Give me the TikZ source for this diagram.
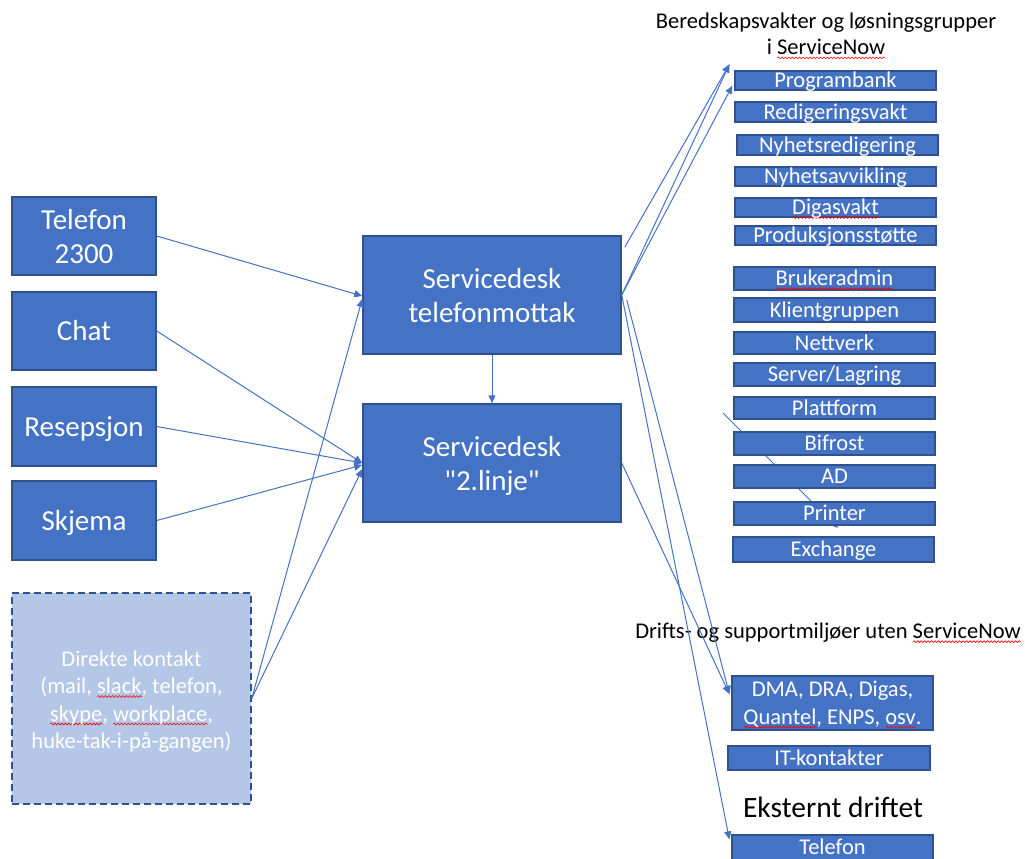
\documentclass[tikz,border=0pt]{standalone}
\usepackage{fontspec}
\newfontfamily\carlito{Carlito}
\usetikzlibrary{arrows.meta,decorations.pathmorphing}
\definecolor{boxblue}{HTML}{4472C4}
\definecolor{boxedge}{HTML}{2F528F}
\definecolor{softblue}{HTML}{B4C7E7}
\definecolor{linkblue}{HTML}{4472C4}
% red wavy spell-check underline under a word
\newsavebox\spellbox
\newdimen\spellwd
\newcommand\spellmark[1]{\sbox\spellbox{#1}\spellwd=\wd\spellbox\leavevmode
  \rlap{\tikz[baseline=0pt]\draw[solid, red, line width=0.6pt, decorate,
    decoration={snake, amplitude=0.9pt, segment length=3.5pt}] (0pt,-3pt) -- (\spellwd,-3pt);}%
  \usebox\spellbox}
% box given by its corners: style, name, x1, y1, x2, y2, text
\newcommand\cornerbox[7]{%
  \node[#1, minimum width={#5-#3}, minimum height={#6-#4}] (#2) at ({(#3+#5)/2},{(#4+#6)/2}) {#7};}

\begin{document}
\begin{tikzpicture}[x=1pt,y=-1pt,
  bigbox/.style={draw=boxedge, line width=1.5pt, fill=boxblue, text=white, align=center,
    inner sep=0pt, font=\carlito\fontsize{29}{34}\selectfont, text height=19pt, text depth=0pt},
  twolines/.style={text height=55pt},
  directbox/.style={draw=boxedge, line width=1.5pt, dash pattern=on 7pt off 4pt, fill=softblue,
    text=white, align=center, inner sep=0pt, font=\carlito\fontsize{22.5}{27.5}\selectfont,
    text height=100pt, text depth=0pt},
  listbox/.style={draw=boxedge, line width=1.3pt, fill=boxblue, text=white, align=center,
    inner sep=0pt, font=\carlito\fontsize{22.5}{28}\selectfont, text height=14.2pt, text depth=0pt},
  heading/.style={align=center, inner sep=0pt, font=\carlito\fontsize{22.5}{26.5}\selectfont,
    text height=14.2pt, text depth=0pt},
  link/.style={draw=linkblue, line width=1pt, -{Triangle[length=8pt,width=7pt]}},
  ]
\useasboundingbox (0,0) rectangle (1025,859);
\clip (0,0) rectangle (1025,859);

% loose arrow running behind the group boxes
\coordinate (strayA) at (723,413);
\coordinate (strayB) at (838,528);
\draw[link] (strayA) -- (strayB);

% incoming channels
\cornerbox{bigbox,twolines}{tel}{12}{197}{156}{275}{Telefon\\2300}
\cornerbox{bigbox}{chat}{12}{292}{156}{370}{Chat}
\cornerbox{bigbox}{resep}{12}{387}{156}{466}{Resepsjon}
\cornerbox{bigbox}{skjema}{12}{481}{156}{560}{Skjema}
\cornerbox{directbox}{direkte}{12}{593}{251}{804}{Direkte kontakt\\(mail, \spellmark{slack}, telefon,\\\spellmark{skype}, \spellmark{workplace},\\huke-tak-i-på-gangen)}

% service desk
\cornerbox{bigbox,twolines}{desk}{363}{236}{621}{354}{Servicedesk\\telefonmottak}
\cornerbox{bigbox,twolines}{second}{363}{404}{621}{522}{Servicedesk\\"2.linje"}

% groups in ServiceNow
\node[heading, text height=40.7pt] (grpT) at (826,34.5) {Beredskapsvakter og løsningsgrupper\\i \spellmark{ServiceNow}};
\cornerbox{listbox}{pb}{735}{71}{936}{90}{Programbank}
\cornerbox{listbox}{redv}{735}{102}{936}{122}{Redigeringsvakt}
\cornerbox{listbox}{nyred}{737}{135}{938}{155}{Nyhetsredigering}
\cornerbox{listbox}{nyavv}{735}{167}{936}{186}{Nyhetsavvikling}
\cornerbox{listbox}{digas}{735}{198}{936}{217}{\spellmark{Digasvakt}}
\cornerbox{listbox}{prod}{735}{226}{936}{245}{Produksjonsstøtte}
\cornerbox{listbox}{bruk}{734}{267}{935}{290}{\spellmark{Brukeradmin}}
\cornerbox{listbox}{klient}{734}{298}{935}{322}{Klientgruppen}
\cornerbox{listbox}{nett}{734}{332}{935}{354}{Nettverk}
\cornerbox{listbox}{server}{734}{363}{935}{386}{Server/Lagring}
\cornerbox{listbox}{platt}{734}{397}{935}{419}{Plattform}
\cornerbox{listbox}{bif}{734}{432}{935}{455}{Bifrost}
\cornerbox{listbox}{ad}{734}{465}{935}{488}{AD}
\cornerbox{listbox}{printer}{734}{502}{935}{525}{Printer}
\cornerbox{listbox}{exch}{733}{537}{934}{562}{Exchange}

% environments outside ServiceNow
\node[heading] (noSN) at (828,631.5) {Drifts- og supportmiljøer uten \spellmark{ServiceNow}};
\cornerbox{listbox, text height=42.2pt}{dma}{732}{676}{933}{730}{DMA, DRA, Digas,\\\spellmark{Quantel}, ENPS, \spellmark{osv}.}
\cornerbox{listbox}{itk}{728}{746}{930}{770}{IT-kontakter}
\node[heading, font=\carlito\fontsize{29.5}{32}\selectfont, text height=18.6pt] (ext) at (833,808) {Eksternt driftet};
\cornerbox{listbox}{exttel}{732}{835}{933}{860}{Telefon}

% connectors on the left
\draw[link] (tel.east) -- ([yshift=-1pt]desk.west);
\draw[link] (chat.east) -- (second.west);
\draw[link] (resep.east) -- (second.west);
\draw[link] (skjema.east) -- ([yshift=-2pt]second.west);
\draw[link] (direkte.east) -- ([yshift=-4pt]desk.west);
\draw[link] (direkte.east) -- ([yshift=-6pt]second.west);
\draw[link] (desk.south) -- (second.north);

% connectors on the right
\draw[link] ([xshift=3pt,yshift=-12pt]desk.north east) -- ([xshift=-5pt,yshift=6pt]pb.north west);
\draw[link] (desk.east) -- ([xshift=-5pt,yshift=6pt]pb.north west);
\draw[link] (desk.east) -- ([xshift=-2pt,yshift=5pt]pb.south west);
\draw[link] (desk.east) -- ([xshift=-2pt,yshift=-5pt]exttel.north west);
\draw[link] ([xshift=5pt,yshift=-5pt]desk.east) -- ([xshift=-2pt,yshift=9pt]dma.west);
\draw[link] (second.east) -- ([xshift=-2pt,yshift=9pt]dma.west);
\end{tikzpicture}
\end{document}
